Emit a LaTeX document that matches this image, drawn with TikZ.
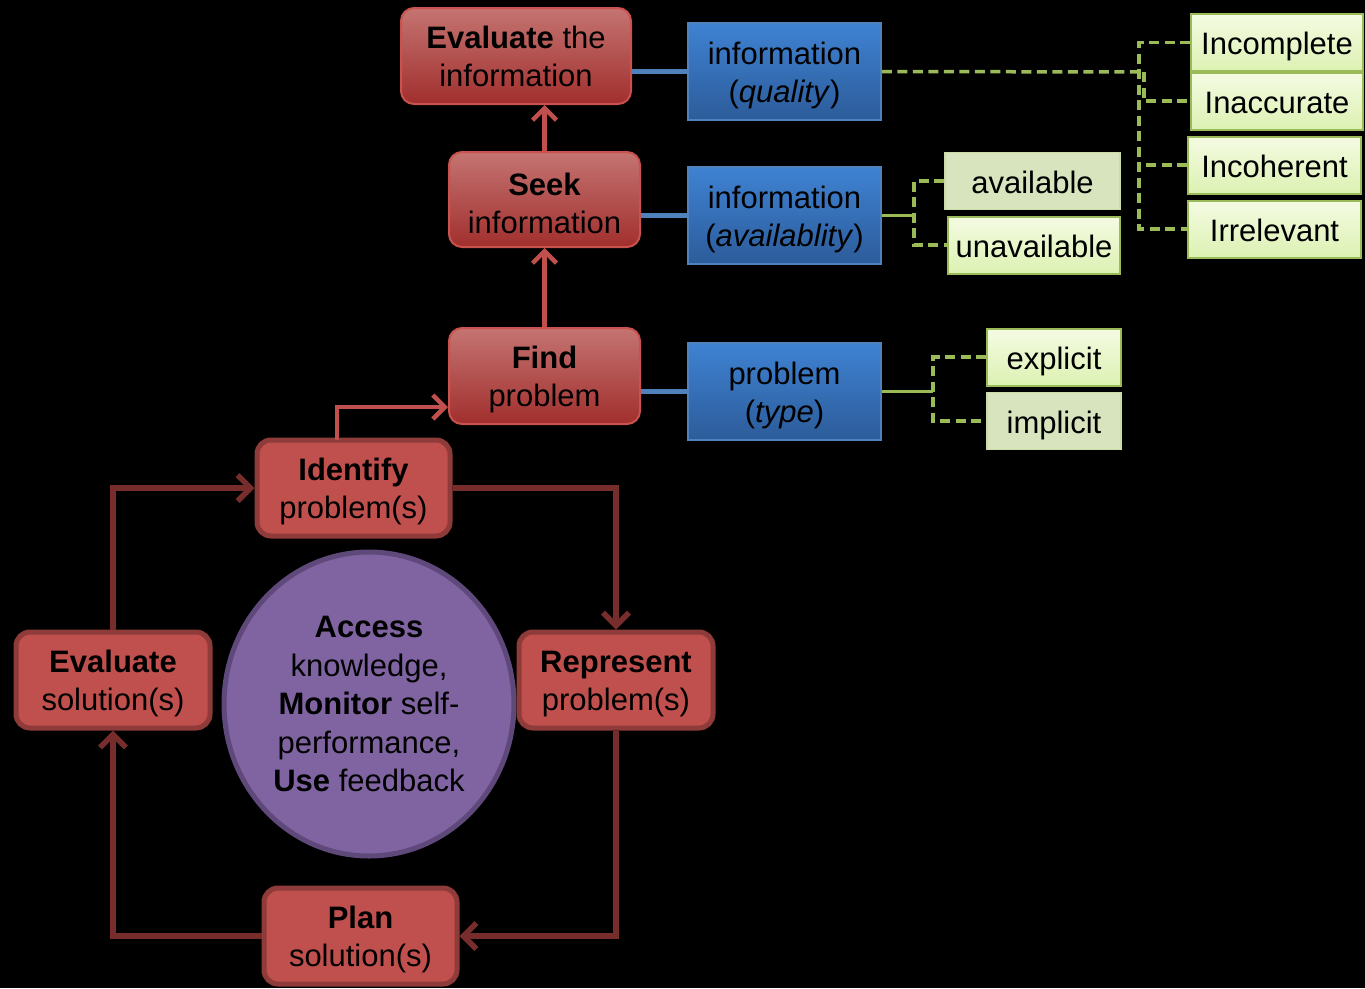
\documentclass[tikz,border=0pt]{standalone}
\usepackage{fontspec}
\setmainfont{Liberation Sans}
\usetikzlibrary{arrows.meta,shapes.geometric,shadings}

\definecolor{cycfill}{HTML}{C0504D}
\definecolor{cycedge}{HTML}{8E3B39}
\definecolor{cycline}{HTML}{772D2B}
\definecolor{toptop}{HTML}{C47472}
\definecolor{topbot}{HTML}{A12F2D}
\definecolor{topedge}{HTML}{C9514E}
\definecolor{bluetop}{HTML}{3F82D2}
\definecolor{bluebot}{HTML}{2C5C9A}
\definecolor{blueedge}{HTML}{4F81BD}
\definecolor{gtop}{HTML}{F4FBE2}
\definecolor{gbot}{HTML}{DDF1B3}
\definecolor{gedge}{HTML}{9BBB59}
\definecolor{gdark}{HTML}{D7E4BD}
\definecolor{purfill}{HTML}{8064A2}
\definecolor{puredge}{HTML}{5F497A}

% taller first line, so that two-line labels sit a little lower in their boxes
\newcommand\firstline{\rule{0pt}{30pt}}

\tikzset{
  txt/.style={font=\fontsize{31}{38}\selectfont, align=center, text=black, inner sep=0pt},
  stepred/.style={txt, rectangle, rounded corners=13pt, draw=topedge, line width=2pt,
    top color=toptop, bottom color=topbot},
  cycbox/.style={txt, rectangle, rounded corners=14pt, draw=cycedge, line width=5pt,
    fill=cycfill, minimum width=193pt, minimum height=96pt},
  infobox/.style={txt, rectangle, draw=blueedge, line width=1.5pt,
    top color=bluetop, bottom color=bluebot, minimum width=193pt, minimum height=97pt},
  leafbox/.style={txt, rectangle, draw=gedge, line width=2pt,
    top color=gtop, bottom color=gbot, minimum height=57pt,
    text height=31pt, text depth=7pt},
  leafdark/.style={txt, rectangle, draw=gdark!80!gedge, line width=1.5pt,
    fill=gdark, minimum height=57pt, text height=31pt, text depth=7pt},
  blueline/.style={draw=blueedge, line width=5.5pt},
  gsolid/.style={draw=gedge, line width=3.5pt},
  gdash/.style={draw=gedge, line width=3.5pt, dash pattern=on 10pt off 5.5pt},
  uparrow/.style={draw=cycfill, line width=4.5pt, -{Straight Barb[length=12pt,width=24pt]}},
  cycarrow/.style={draw=cycline, line width=5.5pt, -{Straight Barb[length=13pt,width=26pt]}},
}

\begin{document}
\begin{tikzpicture}[x=1pt,y=-1pt]
  % canvas
  \fill[black] (0,0) rectangle (1365,988);
  \useasboundingbox (0,0) rectangle (1365,988);

  % upper chain of steps
  \node[stepred, minimum width=230pt, minimum height=96pt] (evalinfo) at (516,56)
    {\textbf{Evaluate} the\\information};
  \node[stepred, minimum width=191pt, minimum height=95pt] (seek) at (544.5,199.5)
    {\firstline\textbf{Seek}\\information};
  \node[stepred, minimum width=191pt, minimum height=96pt] (find) at (544.5,376)
    {\firstline\textbf{Find}\\problem};

  % aspects
  \node[infobox] (quality) at (784.5,71.5) {\firstline information\\(\textit{quality})};
  \node[infobox] (availab) at (784.5,215.5) {\firstline information\\(\textit{availablity})};
  \node[infobox] (ptype) at (784.5,391.5) {\firstline problem\\(\textit{type})};

  % values
  \node[leafbox, minimum width=172pt] (incomplete) at (1277,42.5) {Incomplete};
  \node[leafbox, minimum width=172pt] (inaccurate) at (1277,101) {Inaccurate};
  \node[leafbox, minimum width=173pt] (incoherent) at (1274.5,165) {Incoherent};
  \node[leafbox, minimum width=173pt] (irrelevant) at (1274.5,229) {Irrelevant};
  \node[leafdark, minimum width=175pt] (available) at (1032.5,181) {available};
  \node[leafbox, minimum width=172pt] (unavailable) at (1034,245) {unavailable};
  \node[leafbox, minimum width=134pt] (explicit) at (1054,357) {explicit};
  \node[leafdark, minimum width=134pt] (implicit) at (1054,421) {implicit};

  % problem-solving cycle
  \node[ellipse, draw=puredge, line width=5pt, fill=purfill, minimum width=290pt,
    minimum height=304pt, inner sep=0pt] (core) at (369,704) {};
  \node[txt, font=\fontsize{31}{38.5}\selectfont] (coretext) at (core.center)
    {\textbf{Access}\\knowledge,\\\textbf{Monitor} self-\\performance,\\\textbf{Use} feedback};
  \node[cycbox] (identify) at (353.5,488) {\firstline\textbf{Identify}\\problem(s)};
  \node[cycbox, minimum width=194pt] (represent) at (616,680) {\firstline\textbf{Represent}\\problem(s)};
  \node[cycbox, minimum width=194pt] (evalsol) at (113,680) {\firstline\textbf{Evaluate}\\solution(s)};
  \node[cycbox] (plan) at (360.5,936) {\firstline\textbf{Plan}\\solution(s)};

  % junction points of the brackets
  \coordinate (qbus) at (1139,43);
  \coordinate (qjoin) at (1144,72);
  \coordinate (abus) at (914,215.5);
  \coordinate (tbus) at (933,391.5);
  \coordinate (idstart) at (337,440);

  % step to aspect links
  \draw[blueline] (quality.west -| evalinfo.east) -- (quality.west);
  \draw[blueline] (availab.west -| seek.east) -- (availab.west);
  \draw[blueline] (ptype.west -| find.east) -- (ptype.west);

  % upward arrows
  \draw[uparrow] (seek.north) -- (evalinfo.south -| seek.north);
  \draw[uparrow] (find.north) -- (seek.south);
  \draw[uparrow] (idstart) |- ([yshift=-31pt]find.west);

  % quality bracket
  \draw[gdash] (quality.east) -- (qjoin);
  \draw[gdash] (qjoin) |- (inaccurate.west);
  \draw[gdash] (incomplete.west) -| (qbus) |- (irrelevant.west);
  \draw[gdash] (incoherent.west) -- (incoherent.west -| qbus);

  % availability bracket
  \draw[gsolid] (availab.east) -- (abus);
  \draw[gdash] (available.west) -| (abus) |- (unavailable.west);

  % type bracket
  \draw[gsolid] (ptype.east) -- (tbus);
  \draw[gdash] (explicit.west) -| (tbus) |- (implicit.west);

  % cycle connectors
  \draw[cycarrow] (identify.east) -| (represent.north);
  \draw[cycarrow] (represent.south) |- (plan.east);
  \draw[cycarrow] (plan.west) -| (evalsol.south);
  \draw[cycarrow] (evalsol.north) |- (identify.west);
\end{tikzpicture}
\end{document}
